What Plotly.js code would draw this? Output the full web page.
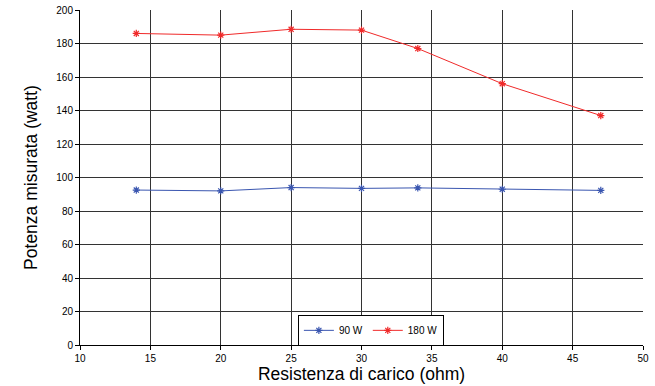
<!DOCTYPE html>
<html><head><meta charset="utf-8">
<script src="https://cdn.plot.ly/plotly-3.0.1.min.js"></script>
<style>html,body{margin:0;padding:0;background:#fff;}#chart{width:655px;height:386px;}</style>
</head><body><div id="chart"></div>
<script>
const resistance = [14, 20, 25, 30, 34, 40, 47];
const power90 = [92.5, 92, 94, 93.5, 93.8, 93, 92.3];
const power180 = [186, 185, 188.5, 188, 177, 156, 137];
const seriesNames = ['90 W', '180 W'];
const xTicks = [10, 15, 20, 25, 30, 35, 40, 45, 50];
const yTicks = [0, 20, 40, 60, 80, 100, 120, 140, 160, 180, 200];

const traces = [
  {x: resistance, y: power90, name: seriesNames[0], type: 'scatter', mode: 'lines+markers',
   line: {color: '#3a56b0', width: 1}, marker: {symbol: 'asterisk', size: 6, color: '#3a56b0', line: {color: '#3a56b0', width: 1.2}}},
  {x: resistance, y: power180, name: seriesNames[1], type: 'scatter', mode: 'lines+markers',
   line: {color: '#f02a2a', width: 1}, marker: {symbol: 'asterisk', size: 6, color: '#f02a2a', line: {color: '#f02a2a', width: 1.2}}}
];
const layout = {
  width: 655, height: 386,
  margin: {l: 79.5, r: 11.5, t: 10, b: 41},
  paper_bgcolor: '#fff', plot_bgcolor: '#fff',
  font: {family: 'Liberation Sans, Arial, sans-serif', size: 10, color: '#000'},
  showlegend: true,
  legend: {orientation: 'h', x: 0.387, y: 0.09, xanchor: 'left', yanchor: 'top',
    bordercolor: '#000', borderwidth: 1, bgcolor: '#fff', font: {size: 10}, itemwidth: 30, tracegroupgap: 0},
  xaxis: {range: [10, 50], tickvals: xTicks, ticktext: xTicks.map(String), showgrid: true, gridcolor: '#333', gridwidth: 1,
    zeroline: false, showline: true, linecolor: '#000', linewidth: 1, ticks: 'outside', ticklen: 4, tickcolor: '#000',
    title: {text: 'Resistenza di carico (ohm)', font: {family: 'Liberation Sans, Arial, sans-serif', size: 17.5}, standoff: 3},
    mirror: false},
  yaxis: {range: [0, 200], tickvals: yTicks, ticktext: yTicks.map(String), showgrid: true, gridcolor: '#333', gridwidth: 1,
    zeroline: false, showline: true, linecolor: '#000', linewidth: 1, ticks: 'outside', ticklen: 4, tickcolor: '#000',
    title: {text: 'Potenza misurata (watt)', font: {family: 'Liberation Sans, Arial, sans-serif', size: 17.5}, standoff: 14}}
};
Plotly.newPlot('chart', traces, layout, {displayModeBar: false, staticPlot: true});
</script></body></html>
